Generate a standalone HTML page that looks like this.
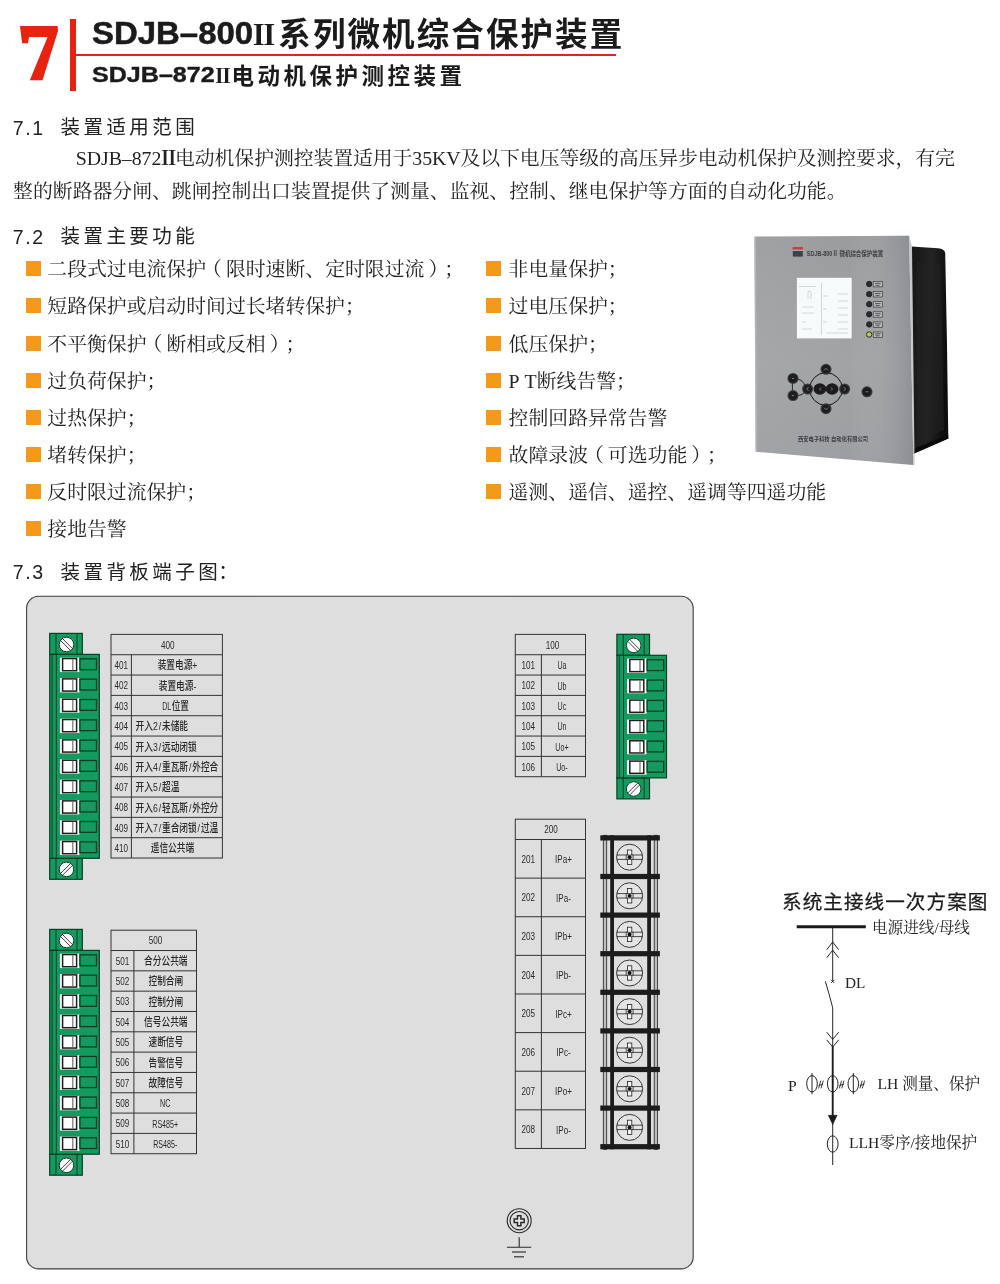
<!DOCTYPE html><html lang="zh"><head><meta charset="utf-8"><title>SDJB-872Ⅱ</title><style>
html,body{margin:0;padding:0;background:#fff;}
#pg{will-change:transform;text-spacing-trim:space-all;font-kerning:none;position:relative;width:1000px;height:1284px;overflow:hidden;background:#fff;
 font-family:"Liberation Serif","Noto Serif CJK SC",serif;color:#1a1a1a;}
.t{position:absolute;white-space:nowrap;line-height:1;}
.hei{font-family:"Liberation Sans","Noto Sans CJK SC",sans-serif;}
.song{font-family:"Liberation Serif","Noto Serif CJK SC",serif;}
.h1{font-weight:bold;font-size:32.5px;letter-spacing:2.1px;color:#1b1b1b;}
.h2{font-weight:bold;font-size:22.5px;letter-spacing:3.5px;color:#1b1b1b;}
.sec{font-size:19.5px;letter-spacing:3.45px;color:#222;}
.num{font-size:19.5px;letter-spacing:1.6px;color:#222;}
.body{font-size:19.85px;color:#222;}
.r2{margin:0 -3.5px 0 -2.5px;font-weight:bold;}
.li{font-size:19.85px;color:#222;}
.pl{position:relative;left:-4px;}.pr{position:relative;left:4px;}
.sq{position:absolute;width:15.5px;height:15px;background:#f5991a;}
svg{position:absolute;left:0;top:0;will-change:transform;}
.tt{font-family:"Liberation Sans","Noto Sans CJK SC",sans-serif;fill:#2a2a2a;}
</style></head><body><div id="pg">
<div class="t" id="seven" style="left:14.6px;top:12.6px;font-family:'Liberation Serif',serif;font-weight:bold;font-size:79px;color:#e8230f;transform-origin:0 0;transform:skewX(7deg) scaleX(1.06);-webkit-text-stroke:2.4px #e8230f;">7</div>
<div style="position:absolute;left:69.5px;top:19px;width:6px;height:71.5px;background:#e8230f;"></div>
<div style="position:absolute;left:73px;top:53.8px;width:543px;height:2.6px;background:#e8230f;"></div>
<div class="t hei" id="h1a" style="left:92px;top:18.4px;font-weight:bold;font-size:30.5px;color:#1b1b1b;transform-origin:0 0;transform:scaleX(1.08);-webkit-text-stroke:0.5px #1b1b1b;">SDJB–800</div>
<div class="t song" id="h1b" style="left:250px;top:21.5px;font-weight:900;font-size:28px;color:#1b1b1b;transform-origin:50% 0;transform:scaleX(1.0);">Ⅱ</div>
<div class="t hei h1" id="h1" style="left:278.3px;top:18.6px;">系列微机综合保护装置</div>
<div class="t hei" id="h2a" style="left:92px;top:64.2px;font-weight:bold;font-size:22.3px;color:#1b1b1b;transform-origin:0 0;transform:scaleX(1.125);-webkit-text-stroke:0.4px #1b1b1b;">SDJB–872</div>
<div class="t song" id="h2b" style="left:213px;top:65.5px;font-weight:900;font-size:20px;color:#1b1b1b;transform-origin:50% 0;transform:scaleX(0.97);">Ⅱ</div>
<div class="t hei h2" id="h2" style="left:231.6px;top:65.8px;">电动机保护测控装置</div>
<div class="t hei num" style="left:12.8px;top:118.6px;">7.1</div><div class="t hei sec" id="s1" style="left:60.5px;top:117.7px;">装置适用范围</div>
<div class="t song body" id="p1" style="left:75.8px;top:149.2px;letter-spacing:-0.07px;">SDJB–872<span class="r2">Ⅱ</span>电动机保护测控装置适用于35KV及以下电压等级的高压异步电动机保护及测控要求，有完</div>
<div class="t song body" id="p2" style="left:13.1px;top:182.2px;">整的断路器分闸、跳闸控制出口装置提供了测量、监视、控制、继电保护等方面的自动化功能。</div>
<div class="t hei num" style="left:12.8px;top:228px;">7.2</div><div class="t hei sec" id="s2" style="left:60.5px;top:227.1px;">装置主要功能</div>
<div class="sq" style="left:25.5px;top:261.25px;"></div>
<div class="t song li" id="l0" style="left:47.3px;top:260.35px;">二段式过电流保护<span class="pl">（</span>限时速断、定时限过流<span class="pr">）</span>；</div>
<div class="sq" style="left:25.5px;top:298.39px;"></div>
<div class="t song li" id="l1" style="left:47.3px;top:297.49px;">短路保护或启动时间过长堵转保护；</div>
<div class="sq" style="left:25.5px;top:335.53px;"></div>
<div class="t song li" id="l2" style="left:47.3px;top:334.63px;">不平衡保护<span class="pl">（</span>断相或反相<span class="pr">）</span>；</div>
<div class="sq" style="left:25.5px;top:372.67px;"></div>
<div class="t song li" id="l3" style="left:47.3px;top:371.77px;">过负荷保护；</div>
<div class="sq" style="left:25.5px;top:409.81px;"></div>
<div class="t song li" id="l4" style="left:47.3px;top:408.91px;">过热保护；</div>
<div class="sq" style="left:25.5px;top:446.95px;"></div>
<div class="t song li" id="l5" style="left:47.3px;top:446.05px;">堵转保护；</div>
<div class="sq" style="left:25.5px;top:484.09px;"></div>
<div class="t song li" id="l6" style="left:47.3px;top:483.19px;">反时限过流保护；</div>
<div class="sq" style="left:25.5px;top:521.23px;"></div>
<div class="t song li" id="l7" style="left:47.3px;top:520.33px;">接地告警</div>
<div class="sq" style="left:485.5px;top:261.25px;"></div>
<div class="t song li" id="r0" style="left:508.6px;top:260.35px;">非电量保护；</div>
<div class="sq" style="left:485.5px;top:298.39px;"></div>
<div class="t song li" id="r1" style="left:508.6px;top:297.49px;">过电压保护；</div>
<div class="sq" style="left:485.5px;top:335.53px;"></div>
<div class="t song li" id="r2" style="left:508.6px;top:334.63px;">低压保护；</div>
<div class="sq" style="left:485.5px;top:372.67px;"></div>
<div class="t song li" id="r3" style="left:508.6px;top:371.77px;">P T断线告警；</div>
<div class="sq" style="left:485.5px;top:409.81px;"></div>
<div class="t song li" id="r4" style="left:508.6px;top:408.91px;">控制回路异常告警</div>
<div class="sq" style="left:485.5px;top:446.95px;"></div>
<div class="t song li" id="r5" style="left:508.6px;top:446.05px;">故障录波<span class="pl">（</span>可选功能<span class="pr">）</span>；</div>
<div class="sq" style="left:485.5px;top:484.09px;"></div>
<div class="t song li" id="r6" style="left:508.6px;top:483.19px;">遥测、遥信、遥控、遥调等四遥功能</div>
<div class="t hei num" style="left:12.8px;top:563.4px;">7.3</div><div class="t hei sec" id="s3" style="left:60.5px;top:562.5px;">装置背板端子图<span style="margin-left:-3px">：</span></div>
<svg width="1000" height="1284" viewBox="0 0 1000 1284"><defs>
<linearGradient id="gpanel" x1="0" y1="0" x2="0" y2="1"><stop offset="0" stop-color="#9a9c9e"/><stop offset="0.55" stop-color="#a1a3a5"/><stop offset="1" stop-color="#9c9ea1"/></linearGradient>
<linearGradient id="gpanel2" x1="0" y1="0" x2="1" y2="0"><stop offset="0" stop-color="#ffffff" stop-opacity="0.05"/><stop offset="0.6" stop-color="#ffffff" stop-opacity="0"/><stop offset="1" stop-color="#50545e" stop-opacity="0.22"/></linearGradient>
<linearGradient id="gbox" x1="0" y1="0" x2="1" y2="0.15"><stop offset="0" stop-color="#161616"/><stop offset="0.55" stop-color="#232323"/><stop offset="1" stop-color="#0d0d0d"/></linearGradient>
</defs><g id="device"><path d="M911.5 246.6 L938 248.2 Q944.6 249 945.2 253 L947 345 L948.3 438.6 L913.6 453.8 Z" fill="url(#gbox)"/><path d="M916 262 L941 265 L944 430 L917.5 441.5 Z" fill="#222224" opacity="0.55"/><path d="M913.6 453.8 L948.3 438.6 L948.2 434.5 L913.6 449 Z" fill="#0a0a0a"/><polygon points="754.4,236.6 909.2,235.8 913.4,465 755.6,451.8" fill="url(#gpanel)"/><polygon points="754.4,236.6 909.2,235.8 913.4,465 755.6,451.8" fill="url(#gpanel2)"/><polygon points="909.2,235.8 912,246.8 914.6,465.4 913.4,465" fill="#c4c7ca"/><polygon points="754.4,236.6 756,236.6 757.2,451.9 755.6,451.8" fill="#b9bbbd" opacity="0.7"/><rect x="796.9" y="277.8" width="54.8" height="60.6" fill="#f7fafb"/><g stroke="#b9c3c8" stroke-width="0.6" fill="none"><path d="M799 286.5H816M808 291.5v7.5M811 291.5v7.5M808 291.5h3M821.5 283v52M823 296h5M838 294h10M838 301h10M823 309h4M838 308h10M838 315h10M823 322h4M838 322h10M838 329h10M802 307h12M802 313h12M802 322h4M802 329h10M826 333h22"/></g><circle cx="869.2" cy="284.0" r="2.7" fill="#2d2d2d" stroke="#1e1e1e" stroke-width="0.9"/><rect x="873.2" y="281.5" width="9.4" height="5.4" fill="#b4b7b9" stroke="#2c2c2c" stroke-width="0.6"/><path d="M875 283.4h5.6M875.6 285.3h4" stroke="#3c3f42" stroke-width="0.8"/><circle cx="869.2" cy="294.1" r="2.7" fill="#2d2d2d" stroke="#1e1e1e" stroke-width="0.9"/><rect x="873.2" y="291.6" width="9.4" height="5.4" fill="#b4b7b9" stroke="#2c2c2c" stroke-width="0.6"/><path d="M875 293.5h5.6M875.6 295.4h4" stroke="#3c3f42" stroke-width="0.8"/><circle cx="869.2" cy="304.2" r="2.7" fill="#2d2d2d" stroke="#1e1e1e" stroke-width="0.9"/><rect x="873.2" y="301.7" width="9.4" height="5.4" fill="#b4b7b9" stroke="#2c2c2c" stroke-width="0.6"/><path d="M875 303.6h5.6M875.6 305.5h4" stroke="#3c3f42" stroke-width="0.8"/><circle cx="869.2" cy="314.3" r="2.7" fill="#2d2d2d" stroke="#1e1e1e" stroke-width="0.9"/><rect x="873.2" y="311.8" width="9.4" height="5.4" fill="#b4b7b9" stroke="#2c2c2c" stroke-width="0.6"/><path d="M875 313.7h5.6M875.6 315.6h4" stroke="#3c3f42" stroke-width="0.8"/><circle cx="869.2" cy="324.4" r="2.7" fill="#2d2d2d" stroke="#1e1e1e" stroke-width="0.9"/><rect x="873.2" y="321.9" width="9.4" height="5.4" fill="#b4b7b9" stroke="#2c2c2c" stroke-width="0.6"/><path d="M875 323.8h5.6M875.6 325.7h4" stroke="#3c3f42" stroke-width="0.8"/><circle cx="869.2" cy="334.5" r="2.7" fill="#b7cf4a" stroke="#1e1e1e" stroke-width="0.9"/><rect x="873.2" y="332.0" width="9.4" height="5.4" fill="#b4b7b9" stroke="#2c2c2c" stroke-width="0.6"/><path d="M875 333.9h5.6M875.6 335.8h4" stroke="#3c3f42" stroke-width="0.8"/><circle cx="826" cy="389" r="16.3" fill="none" stroke="#141414" stroke-width="1"/><path d="M797 379 Q803.5 380 804.8 386 M797 395.6 Q803.5 395 804.8 391.6 M792.4 383v8" stroke="#1a1a1a" stroke-width="0.9" fill="none"/><circle cx="826.0" cy="369.3" r="5.5" fill="#3a3a3e"/><circle cx="826.0" cy="369.3" r="4.3" fill="#1d1d20"/><circle cx="826.0" cy="408.7" r="5.5" fill="#3a3a3e"/><circle cx="826.0" cy="408.7" r="4.3" fill="#1d1d20"/><circle cx="807.6" cy="389.0" r="5.5" fill="#3a3a3e"/><circle cx="807.6" cy="389.0" r="4.3" fill="#1d1d20"/><circle cx="844.6" cy="389.0" r="5.5" fill="#3a3a3e"/><circle cx="844.6" cy="389.0" r="4.3" fill="#1d1d20"/><circle cx="793.0" cy="378.4" r="5.5" fill="#3a3a3e"/><circle cx="793.0" cy="378.4" r="4.3" fill="#1d1d20"/><circle cx="793.0" cy="395.6" r="5.5" fill="#3a3a3e"/><circle cx="793.0" cy="395.6" r="4.3" fill="#1d1d20"/><circle cx="867.0" cy="391.8" r="5.5" fill="#3a3a3e"/><circle cx="867.0" cy="391.8" r="4.3" fill="#1d1d20"/><ellipse cx="819.9" cy="389" rx="6.4" ry="5.8" fill="#1c1c1f"/><ellipse cx="832.1" cy="389" rx="6.4" ry="5.8" fill="#1c1c1f"/><g stroke="#8f9296" stroke-width="0.8" fill="none"><path d="M824 370.3l2-2 2 2M824 407.7l2 2 2-2M808.6 387l-2 2 2 2M843.6 387l2 2-2 2M821 387.5l-1.5 1.5 1.5 1.5M831 387.5l1.5 1.5-1.5 1.5M865.6 391.8h2.8M791.8 378.4h2.4M791.8 395.6h2.4"/></g><rect x="792.6" y="247" width="10.4" height="2.6" fill="#c4413d"/><rect x="792.8" y="251" width="10" height="5.6" fill="#3d4248"/><path d="M792.4 250.3h10.8" stroke="#b9bcbe" stroke-width="0.5"/><text x="806.8" y="256.4" font-family="'Liberation Sans','Noto Sans CJK SC',sans-serif" font-size="6.8" font-weight="bold" fill="#3b3f43" textLength="76.5" lengthAdjust="spacingAndGlyphs">SDJB-800Ⅱ 微机综合保护装置</text><text x="798" y="440.6" font-family="'Liberation Sans','Noto Sans CJK SC',sans-serif" font-size="6.2" font-weight="bold" fill="#3b3f43" textLength="70" lengthAdjust="spacingAndGlyphs">西安电子科技 自动化有限公司</text></g><rect x="26.6" y="596.3" width="666.6" height="672.6" rx="12" ry="12" fill="#dedede" stroke="#3e3e3e" stroke-width="1.1"/><g id="c400"><rect x="49.70" y="633.40" width="32.6" height="21.00" fill="#149a5f" stroke="#083f24" stroke-width="1.2"/><path d="M56.00 633.40v21.00M77.00 633.40v21.00" stroke="#083f24" stroke-width="1" fill="none"/><circle cx="66.50" cy="644.50" r="7.3" fill="#fff" stroke="#083f24" stroke-width="1"/><path d="M60.60 640.50L70.50 650.40M62.50 638.60L72.40 648.50" stroke="#3a2a2a" stroke-width="0.9" fill="none"/><rect x="49.70" y="858.30" width="32.6" height="21.00" fill="#149a5f" stroke="#083f24" stroke-width="1.2"/><path d="M56.00 858.30v21.00M77.00 858.30v21.00" stroke="#083f24" stroke-width="1" fill="none"/><circle cx="66.50" cy="869.40" r="7.3" fill="#fff" stroke="#083f24" stroke-width="1"/><path d="M72.40 865.40L62.50 875.30M70.50 863.50L60.60 873.40" stroke="#3a2a2a" stroke-width="0.9" fill="none"/><rect x="49.70" y="654.40" width="49.6" height="203.90" fill="#149a5f" stroke="#083f24" stroke-width="1.2"/><path d="M52.10 654.40v203.90M56.30 654.40v203.90" stroke="#083f24" stroke-width="1" fill="none"/><rect x="59.90" y="657.66" width="19.5" height="14.4" fill="#fff"/><rect x="62.60" y="658.56" width="14" height="12.2" fill="#fff" stroke="#231a1a" stroke-width="1.5"/><path d="M72.80 659.16v11" stroke="#707070" stroke-width="1.2"/><rect x="79.90" y="658.86" width="16.6" height="10.8" fill="#149a5f" stroke="#083f24" stroke-width="1.3"/><rect x="59.90" y="677.99" width="19.5" height="14.4" fill="#fff"/><rect x="62.60" y="678.89" width="14" height="12.2" fill="#fff" stroke="#231a1a" stroke-width="1.5"/><path d="M72.80 679.49v11" stroke="#707070" stroke-width="1.2"/><rect x="79.90" y="679.19" width="16.6" height="10.8" fill="#149a5f" stroke="#083f24" stroke-width="1.3"/><rect x="59.90" y="698.32" width="19.5" height="14.4" fill="#fff"/><rect x="62.60" y="699.23" width="14" height="12.2" fill="#fff" stroke="#231a1a" stroke-width="1.5"/><path d="M72.80 699.82v11" stroke="#707070" stroke-width="1.2"/><rect x="79.90" y="699.52" width="16.6" height="10.8" fill="#149a5f" stroke="#083f24" stroke-width="1.3"/><rect x="59.90" y="718.65" width="19.5" height="14.4" fill="#fff"/><rect x="62.60" y="719.55" width="14" height="12.2" fill="#fff" stroke="#231a1a" stroke-width="1.5"/><path d="M72.80 720.15v11" stroke="#707070" stroke-width="1.2"/><rect x="79.90" y="719.85" width="16.6" height="10.8" fill="#149a5f" stroke="#083f24" stroke-width="1.3"/><rect x="59.90" y="738.98" width="19.5" height="14.4" fill="#fff"/><rect x="62.60" y="739.88" width="14" height="12.2" fill="#fff" stroke="#231a1a" stroke-width="1.5"/><path d="M72.80 740.48v11" stroke="#707070" stroke-width="1.2"/><rect x="79.90" y="740.18" width="16.6" height="10.8" fill="#149a5f" stroke="#083f24" stroke-width="1.3"/><rect x="59.90" y="759.31" width="19.5" height="14.4" fill="#fff"/><rect x="62.60" y="760.21" width="14" height="12.2" fill="#fff" stroke="#231a1a" stroke-width="1.5"/><path d="M72.80 760.81v11" stroke="#707070" stroke-width="1.2"/><rect x="79.90" y="760.51" width="16.6" height="10.8" fill="#149a5f" stroke="#083f24" stroke-width="1.3"/><rect x="59.90" y="779.64" width="19.5" height="14.4" fill="#fff"/><rect x="62.60" y="780.54" width="14" height="12.2" fill="#fff" stroke="#231a1a" stroke-width="1.5"/><path d="M72.80 781.14v11" stroke="#707070" stroke-width="1.2"/><rect x="79.90" y="780.84" width="16.6" height="10.8" fill="#149a5f" stroke="#083f24" stroke-width="1.3"/><rect x="59.90" y="799.97" width="19.5" height="14.4" fill="#fff"/><rect x="62.60" y="800.88" width="14" height="12.2" fill="#fff" stroke="#231a1a" stroke-width="1.5"/><path d="M72.80 801.47v11" stroke="#707070" stroke-width="1.2"/><rect x="79.90" y="801.17" width="16.6" height="10.8" fill="#149a5f" stroke="#083f24" stroke-width="1.3"/><rect x="59.90" y="820.30" width="19.5" height="14.4" fill="#fff"/><rect x="62.60" y="821.20" width="14" height="12.2" fill="#fff" stroke="#231a1a" stroke-width="1.5"/><path d="M72.80 821.80v11" stroke="#707070" stroke-width="1.2"/><rect x="79.90" y="821.50" width="16.6" height="10.8" fill="#149a5f" stroke="#083f24" stroke-width="1.3"/><rect x="59.90" y="840.63" width="19.5" height="14.4" fill="#fff"/><rect x="62.60" y="841.53" width="14" height="12.2" fill="#fff" stroke="#231a1a" stroke-width="1.5"/><path d="M72.80 842.13v11" stroke="#707070" stroke-width="1.2"/><rect x="79.90" y="841.83" width="16.6" height="10.8" fill="#149a5f" stroke="#083f24" stroke-width="1.3"/></g><g id="c500"><rect x="49.70" y="929.40" width="32.6" height="21.00" fill="#149a5f" stroke="#083f24" stroke-width="1.2"/><path d="M56.00 929.40v21.00M77.00 929.40v21.00" stroke="#083f24" stroke-width="1" fill="none"/><circle cx="66.50" cy="940.50" r="7.3" fill="#fff" stroke="#083f24" stroke-width="1"/><path d="M60.60 936.50L70.50 946.40M62.50 934.60L72.40 944.50" stroke="#3a2a2a" stroke-width="0.9" fill="none"/><rect x="49.70" y="1154.20" width="32.6" height="21.00" fill="#149a5f" stroke="#083f24" stroke-width="1.2"/><path d="M56.00 1154.20v21.00M77.00 1154.20v21.00" stroke="#083f24" stroke-width="1" fill="none"/><circle cx="66.50" cy="1165.30" r="7.3" fill="#fff" stroke="#083f24" stroke-width="1"/><path d="M72.40 1161.30L62.50 1171.20M70.50 1159.40L60.60 1169.30" stroke="#3a2a2a" stroke-width="0.9" fill="none"/><rect x="49.70" y="950.40" width="49.6" height="203.80" fill="#149a5f" stroke="#083f24" stroke-width="1.2"/><path d="M52.10 950.40v203.80M56.30 950.40v203.80" stroke="#083f24" stroke-width="1" fill="none"/><rect x="59.90" y="953.66" width="19.5" height="14.4" fill="#fff"/><rect x="62.60" y="954.56" width="14" height="12.2" fill="#fff" stroke="#231a1a" stroke-width="1.5"/><path d="M72.80 955.16v11" stroke="#707070" stroke-width="1.2"/><rect x="79.90" y="954.86" width="16.6" height="10.8" fill="#149a5f" stroke="#083f24" stroke-width="1.3"/><rect x="59.90" y="973.98" width="19.5" height="14.4" fill="#fff"/><rect x="62.60" y="974.88" width="14" height="12.2" fill="#fff" stroke="#231a1a" stroke-width="1.5"/><path d="M72.80 975.48v11" stroke="#707070" stroke-width="1.2"/><rect x="79.90" y="975.18" width="16.6" height="10.8" fill="#149a5f" stroke="#083f24" stroke-width="1.3"/><rect x="59.90" y="994.30" width="19.5" height="14.4" fill="#fff"/><rect x="62.60" y="995.20" width="14" height="12.2" fill="#fff" stroke="#231a1a" stroke-width="1.5"/><path d="M72.80 995.80v11" stroke="#707070" stroke-width="1.2"/><rect x="79.90" y="995.50" width="16.6" height="10.8" fill="#149a5f" stroke="#083f24" stroke-width="1.3"/><rect x="59.90" y="1014.62" width="19.5" height="14.4" fill="#fff"/><rect x="62.60" y="1015.52" width="14" height="12.2" fill="#fff" stroke="#231a1a" stroke-width="1.5"/><path d="M72.80 1016.12v11" stroke="#707070" stroke-width="1.2"/><rect x="79.90" y="1015.82" width="16.6" height="10.8" fill="#149a5f" stroke="#083f24" stroke-width="1.3"/><rect x="59.90" y="1034.94" width="19.5" height="14.4" fill="#fff"/><rect x="62.60" y="1035.84" width="14" height="12.2" fill="#fff" stroke="#231a1a" stroke-width="1.5"/><path d="M72.80 1036.44v11" stroke="#707070" stroke-width="1.2"/><rect x="79.90" y="1036.14" width="16.6" height="10.8" fill="#149a5f" stroke="#083f24" stroke-width="1.3"/><rect x="59.90" y="1055.26" width="19.5" height="14.4" fill="#fff"/><rect x="62.60" y="1056.16" width="14" height="12.2" fill="#fff" stroke="#231a1a" stroke-width="1.5"/><path d="M72.80 1056.76v11" stroke="#707070" stroke-width="1.2"/><rect x="79.90" y="1056.46" width="16.6" height="10.8" fill="#149a5f" stroke="#083f24" stroke-width="1.3"/><rect x="59.90" y="1075.58" width="19.5" height="14.4" fill="#fff"/><rect x="62.60" y="1076.48" width="14" height="12.2" fill="#fff" stroke="#231a1a" stroke-width="1.5"/><path d="M72.80 1077.08v11" stroke="#707070" stroke-width="1.2"/><rect x="79.90" y="1076.78" width="16.6" height="10.8" fill="#149a5f" stroke="#083f24" stroke-width="1.3"/><rect x="59.90" y="1095.90" width="19.5" height="14.4" fill="#fff"/><rect x="62.60" y="1096.80" width="14" height="12.2" fill="#fff" stroke="#231a1a" stroke-width="1.5"/><path d="M72.80 1097.40v11" stroke="#707070" stroke-width="1.2"/><rect x="79.90" y="1097.10" width="16.6" height="10.8" fill="#149a5f" stroke="#083f24" stroke-width="1.3"/><rect x="59.90" y="1116.22" width="19.5" height="14.4" fill="#fff"/><rect x="62.60" y="1117.12" width="14" height="12.2" fill="#fff" stroke="#231a1a" stroke-width="1.5"/><path d="M72.80 1117.72v11" stroke="#707070" stroke-width="1.2"/><rect x="79.90" y="1117.42" width="16.6" height="10.8" fill="#149a5f" stroke="#083f24" stroke-width="1.3"/><rect x="59.90" y="1136.54" width="19.5" height="14.4" fill="#fff"/><rect x="62.60" y="1137.44" width="14" height="12.2" fill="#fff" stroke="#231a1a" stroke-width="1.5"/><path d="M72.80 1138.04v11" stroke="#707070" stroke-width="1.2"/><rect x="79.90" y="1137.74" width="16.6" height="10.8" fill="#149a5f" stroke="#083f24" stroke-width="1.3"/></g><g id="c100"><rect x="616.90" y="634.30" width="32.6" height="21.00" fill="#149a5f" stroke="#083f24" stroke-width="1.2"/><path d="M623.20 634.30v21.00M644.20 634.30v21.00" stroke="#083f24" stroke-width="1" fill="none"/><circle cx="633.70" cy="645.40" r="7.3" fill="#fff" stroke="#083f24" stroke-width="1"/><path d="M627.80 641.40L637.70 651.30M629.70 639.50L639.60 649.40" stroke="#3a2a2a" stroke-width="0.9" fill="none"/><rect x="616.90" y="777.88" width="32.6" height="21.00" fill="#149a5f" stroke="#083f24" stroke-width="1.2"/><path d="M623.20 777.88v21.00M644.20 777.88v21.00" stroke="#083f24" stroke-width="1" fill="none"/><circle cx="633.70" cy="788.98" r="7.3" fill="#fff" stroke="#083f24" stroke-width="1"/><path d="M639.60 784.98L629.70 794.88M637.70 783.08L627.80 792.98" stroke="#3a2a2a" stroke-width="0.9" fill="none"/><rect x="616.90" y="655.30" width="49.6" height="122.58" fill="#149a5f" stroke="#083f24" stroke-width="1.2"/><path d="M619.30 655.30v122.58M623.50 655.30v122.58" stroke="#083f24" stroke-width="1" fill="none"/><rect x="627.10" y="658.56" width="19.5" height="14.4" fill="#fff"/><rect x="629.80" y="659.46" width="14" height="12.2" fill="#fff" stroke="#231a1a" stroke-width="1.5"/><path d="M640.00 660.06v11" stroke="#707070" stroke-width="1.2"/><rect x="647.10" y="659.76" width="16.6" height="10.8" fill="#149a5f" stroke="#083f24" stroke-width="1.3"/><rect x="627.10" y="678.89" width="19.5" height="14.4" fill="#fff"/><rect x="629.80" y="679.79" width="14" height="12.2" fill="#fff" stroke="#231a1a" stroke-width="1.5"/><path d="M640.00 680.39v11" stroke="#707070" stroke-width="1.2"/><rect x="647.10" y="680.09" width="16.6" height="10.8" fill="#149a5f" stroke="#083f24" stroke-width="1.3"/><rect x="627.10" y="699.22" width="19.5" height="14.4" fill="#fff"/><rect x="629.80" y="700.12" width="14" height="12.2" fill="#fff" stroke="#231a1a" stroke-width="1.5"/><path d="M640.00 700.72v11" stroke="#707070" stroke-width="1.2"/><rect x="647.10" y="700.42" width="16.6" height="10.8" fill="#149a5f" stroke="#083f24" stroke-width="1.3"/><rect x="627.10" y="719.55" width="19.5" height="14.4" fill="#fff"/><rect x="629.80" y="720.45" width="14" height="12.2" fill="#fff" stroke="#231a1a" stroke-width="1.5"/><path d="M640.00 721.05v11" stroke="#707070" stroke-width="1.2"/><rect x="647.10" y="720.75" width="16.6" height="10.8" fill="#149a5f" stroke="#083f24" stroke-width="1.3"/><rect x="627.10" y="739.88" width="19.5" height="14.4" fill="#fff"/><rect x="629.80" y="740.78" width="14" height="12.2" fill="#fff" stroke="#231a1a" stroke-width="1.5"/><path d="M640.00 741.38v11" stroke="#707070" stroke-width="1.2"/><rect x="647.10" y="741.08" width="16.6" height="10.8" fill="#149a5f" stroke="#083f24" stroke-width="1.3"/><rect x="627.10" y="760.21" width="19.5" height="14.4" fill="#fff"/><rect x="629.80" y="761.12" width="14" height="12.2" fill="#fff" stroke="#231a1a" stroke-width="1.5"/><path d="M640.00 761.71v11" stroke="#707070" stroke-width="1.2"/><rect x="647.10" y="761.41" width="16.6" height="10.8" fill="#149a5f" stroke="#083f24" stroke-width="1.3"/></g><g id="t400"><rect x="111.00" y="634.40" width="111.40" height="223.63" fill="none" stroke="#333" stroke-width="1"/><path d="M111.00 654.73H222.40M111.00 675.06H222.40M111.00 695.39H222.40M111.00 715.72H222.40M111.00 736.05H222.40M111.00 756.38H222.40M111.00 776.71H222.40M111.00 797.04H222.40M111.00 817.37H222.40M111.00 837.70H222.40M131.40 654.73V858.03" stroke="#333" stroke-width="1" fill="none"/><text class="tt" transform="translate(167.70 648.56) scale(0.740 1)" text-anchor="middle" font-size="11" font-weight="400">400</text><text class="tt" transform="translate(121.20 668.89) scale(0.740 1)" text-anchor="middle" font-size="11" font-weight="400">401</text><text class="tt" transform="translate(177.50 669.29) scale(0.755 1)" text-anchor="middle" font-size="11.5" font-weight="500">装置电源+</text><text class="tt" transform="translate(121.20 689.23) scale(0.740 1)" text-anchor="middle" font-size="11" font-weight="400">402</text><text class="tt" transform="translate(177.50 689.62) scale(0.755 1)" text-anchor="middle" font-size="11.5" font-weight="500">装置电源-</text><text class="tt" transform="translate(121.20 709.56) scale(0.740 1)" text-anchor="middle" font-size="11" font-weight="400">403</text><text class="tt" transform="translate(171.30 709.96) scale(0.620 1)" text-anchor="end" font-size="11.5" font-weight="400">DL</text><text class="tt" transform="translate(171.70 709.96) scale(0.755 1)" text-anchor="start" font-size="11.5" font-weight="500">位置</text><text class="tt" transform="translate(121.20 729.88) scale(0.740 1)" text-anchor="middle" font-size="11" font-weight="400">404</text><text class="tt" transform="translate(135.60 730.28) scale(0.755 1)" text-anchor="start" font-size="11.5" font-weight="500">开入2<tspan dx="1.2">/</tspan><tspan dx="1.2">​</tspan>未储能</text><text class="tt" transform="translate(121.20 750.22) scale(0.740 1)" text-anchor="middle" font-size="11" font-weight="400">405</text><text class="tt" transform="translate(135.60 750.62) scale(0.755 1)" text-anchor="start" font-size="11.5" font-weight="500">开入3<tspan dx="1.2">/</tspan><tspan dx="1.2">​</tspan>远动闭锁</text><text class="tt" transform="translate(121.20 770.55) scale(0.740 1)" text-anchor="middle" font-size="11" font-weight="400">406</text><text class="tt" transform="translate(135.60 770.95) scale(0.755 1)" text-anchor="start" font-size="11.5" font-weight="500">开入4<tspan dx="1.2">/</tspan><tspan dx="1.2">​</tspan>重瓦斯<tspan dx="1.2">/</tspan><tspan dx="1.2">​</tspan>外控合</text><text class="tt" transform="translate(121.20 790.88) scale(0.740 1)" text-anchor="middle" font-size="11" font-weight="400">407</text><text class="tt" transform="translate(135.60 791.27) scale(0.755 1)" text-anchor="start" font-size="11.5" font-weight="500">开入5<tspan dx="1.2">/</tspan><tspan dx="1.2">​</tspan>超温</text><text class="tt" transform="translate(121.20 811.21) scale(0.740 1)" text-anchor="middle" font-size="11" font-weight="400">408</text><text class="tt" transform="translate(135.60 811.61) scale(0.755 1)" text-anchor="start" font-size="11.5" font-weight="500">开入6<tspan dx="1.2">/</tspan><tspan dx="1.2">​</tspan>轻瓦斯<tspan dx="1.2">/</tspan><tspan dx="1.2">​</tspan>外控分</text><text class="tt" transform="translate(121.20 831.53) scale(0.740 1)" text-anchor="middle" font-size="11" font-weight="400">409</text><text class="tt" transform="translate(135.60 831.93) scale(0.755 1)" text-anchor="start" font-size="11.5" font-weight="500">开入7<tspan dx="1.2">/</tspan><tspan dx="1.2">​</tspan>重合闭锁<tspan dx="1.2">/</tspan><tspan dx="1.2">​</tspan>过温</text><text class="tt" transform="translate(121.20 851.87) scale(0.740 1)" text-anchor="middle" font-size="11" font-weight="400">410</text><text class="tt" transform="translate(172.40 852.26) scale(0.755 1)" text-anchor="middle" font-size="11.5" font-weight="500">遥信公共端</text></g><g id="t500"><rect x="111.00" y="930.20" width="85.50" height="223.52" fill="none" stroke="#333" stroke-width="1"/><path d="M111.00 950.52H196.50M111.00 970.84H196.50M111.00 991.16H196.50M111.00 1011.48H196.50M111.00 1031.80H196.50M111.00 1052.12H196.50M111.00 1072.44H196.50M111.00 1092.76H196.50M111.00 1113.08H196.50M111.00 1133.40H196.50M133.90 950.52V1153.72" stroke="#333" stroke-width="1" fill="none"/><text class="tt" transform="translate(155.55 944.36) scale(0.740 1)" text-anchor="middle" font-size="11" font-weight="400">500</text><text class="tt" transform="translate(122.45 964.68) scale(0.740 1)" text-anchor="middle" font-size="11" font-weight="400">501</text><text class="tt" transform="translate(165.80 965.08) scale(0.755 1)" text-anchor="middle" font-size="11.5" font-weight="500">合分公共端</text><text class="tt" transform="translate(122.45 985.00) scale(0.740 1)" text-anchor="middle" font-size="11" font-weight="400">502</text><text class="tt" transform="translate(165.80 985.40) scale(0.755 1)" text-anchor="middle" font-size="11.5" font-weight="500">控制合闸</text><text class="tt" transform="translate(122.45 1005.32) scale(0.740 1)" text-anchor="middle" font-size="11" font-weight="400">503</text><text class="tt" transform="translate(165.80 1005.72) scale(0.755 1)" text-anchor="middle" font-size="11.5" font-weight="500">控制分闸</text><text class="tt" transform="translate(122.45 1025.64) scale(0.740 1)" text-anchor="middle" font-size="11" font-weight="400">504</text><text class="tt" transform="translate(165.80 1026.04) scale(0.755 1)" text-anchor="middle" font-size="11.5" font-weight="500">信号公共端</text><text class="tt" transform="translate(122.45 1045.96) scale(0.740 1)" text-anchor="middle" font-size="11" font-weight="400">505</text><text class="tt" transform="translate(165.80 1046.36) scale(0.755 1)" text-anchor="middle" font-size="11.5" font-weight="500">速断信号</text><text class="tt" transform="translate(122.45 1066.28) scale(0.740 1)" text-anchor="middle" font-size="11" font-weight="400">506</text><text class="tt" transform="translate(165.80 1066.68) scale(0.755 1)" text-anchor="middle" font-size="11.5" font-weight="500">告警信号</text><text class="tt" transform="translate(122.45 1086.60) scale(0.740 1)" text-anchor="middle" font-size="11" font-weight="400">507</text><text class="tt" transform="translate(165.80 1087.00) scale(0.755 1)" text-anchor="middle" font-size="11.5" font-weight="500">故障信号</text><text class="tt" transform="translate(122.45 1106.92) scale(0.740 1)" text-anchor="middle" font-size="11" font-weight="400">508</text><text class="tt" transform="translate(165.20 1107.32) scale(0.620 1)" text-anchor="middle" font-size="11.5" font-weight="400">NC</text><text class="tt" transform="translate(122.45 1127.24) scale(0.740 1)" text-anchor="middle" font-size="11" font-weight="400">509</text><text class="tt" transform="translate(165.20 1127.64) scale(0.620 1)" text-anchor="middle" font-size="11.5" font-weight="400">RS485+</text><text class="tt" transform="translate(122.45 1147.56) scale(0.740 1)" text-anchor="middle" font-size="11" font-weight="400">510</text><text class="tt" transform="translate(165.20 1147.96) scale(0.620 1)" text-anchor="middle" font-size="11.5" font-weight="400">RS485-</text></g><g id="t100"><rect x="515.30" y="634.40" width="70.20" height="142.31" fill="none" stroke="#333" stroke-width="1"/><path d="M515.30 654.73H585.50M515.30 675.06H585.50M515.30 695.39H585.50M515.30 715.72H585.50M515.30 736.05H585.50M515.30 756.38H585.50M541.40 654.73V776.71" stroke="#333" stroke-width="1" fill="none"/><text class="tt" transform="translate(552.60 648.56) scale(0.740 1)" text-anchor="middle" font-size="11" font-weight="400">100</text><text class="tt" transform="translate(528.35 668.89) scale(0.740 1)" text-anchor="middle" font-size="11" font-weight="400">101</text><text class="tt" transform="translate(561.95 669.29) scale(0.620 1)" text-anchor="middle" font-size="11.5" font-weight="400">Ua</text><text class="tt" transform="translate(528.35 689.23) scale(0.740 1)" text-anchor="middle" font-size="11" font-weight="400">102</text><text class="tt" transform="translate(561.95 689.62) scale(0.620 1)" text-anchor="middle" font-size="11.5" font-weight="400">Ub</text><text class="tt" transform="translate(528.35 709.56) scale(0.740 1)" text-anchor="middle" font-size="11" font-weight="400">103</text><text class="tt" transform="translate(561.95 709.96) scale(0.620 1)" text-anchor="middle" font-size="11.5" font-weight="400">Uc</text><text class="tt" transform="translate(528.35 729.88) scale(0.740 1)" text-anchor="middle" font-size="11" font-weight="400">104</text><text class="tt" transform="translate(561.95 730.28) scale(0.620 1)" text-anchor="middle" font-size="11.5" font-weight="400">Un</text><text class="tt" transform="translate(528.35 750.22) scale(0.740 1)" text-anchor="middle" font-size="11" font-weight="400">105</text><text class="tt" transform="translate(561.95 750.62) scale(0.620 1)" text-anchor="middle" font-size="11.5" font-weight="400">Uo+</text><text class="tt" transform="translate(528.35 770.55) scale(0.740 1)" text-anchor="middle" font-size="11" font-weight="400">106</text><text class="tt" transform="translate(561.95 770.95) scale(0.620 1)" text-anchor="middle" font-size="11.5" font-weight="400">Uo-</text></g><g id="t200"><rect x="515.30" y="819.20" width="70.20" height="329.26" fill="none" stroke="#333" stroke-width="1"/><path d="M515.30 839.50H585.50M515.30 878.12H585.50M515.30 916.74H585.50M515.30 955.36H585.50M515.30 993.98H585.50M515.30 1032.60H585.50M515.30 1071.22H585.50M515.30 1109.84H585.50M541.40 839.50V1148.46" stroke="#333" stroke-width="1" fill="none"/><text class="tt" transform="translate(551.00 833.35) scale(0.740 1)" text-anchor="middle" font-size="11" font-weight="400">200</text><text class="tt" transform="translate(528.35 862.81) scale(0.740 1)" text-anchor="middle" font-size="11" font-weight="400">201</text><text class="tt" transform="translate(563.45 863.21) scale(0.700 1)" text-anchor="middle" font-size="11.5" font-weight="400">IPa+</text><text class="tt" transform="translate(528.35 901.43) scale(0.740 1)" text-anchor="middle" font-size="11" font-weight="400">202</text><text class="tt" transform="translate(563.45 901.83) scale(0.700 1)" text-anchor="middle" font-size="11.5" font-weight="400">IPa-</text><text class="tt" transform="translate(528.35 940.05) scale(0.740 1)" text-anchor="middle" font-size="11" font-weight="400">203</text><text class="tt" transform="translate(563.45 940.45) scale(0.700 1)" text-anchor="middle" font-size="11.5" font-weight="400">IPb+</text><text class="tt" transform="translate(528.35 978.67) scale(0.740 1)" text-anchor="middle" font-size="11" font-weight="400">204</text><text class="tt" transform="translate(563.45 979.07) scale(0.700 1)" text-anchor="middle" font-size="11.5" font-weight="400">IPb-</text><text class="tt" transform="translate(528.35 1017.29) scale(0.740 1)" text-anchor="middle" font-size="11" font-weight="400">205</text><text class="tt" transform="translate(563.45 1017.69) scale(0.700 1)" text-anchor="middle" font-size="11.5" font-weight="400">IPc+</text><text class="tt" transform="translate(528.35 1055.91) scale(0.740 1)" text-anchor="middle" font-size="11" font-weight="400">206</text><text class="tt" transform="translate(563.45 1056.31) scale(0.700 1)" text-anchor="middle" font-size="11.5" font-weight="400">IPc-</text><text class="tt" transform="translate(528.35 1094.53) scale(0.740 1)" text-anchor="middle" font-size="11" font-weight="400">207</text><text class="tt" transform="translate(563.45 1094.93) scale(0.700 1)" text-anchor="middle" font-size="11.5" font-weight="400">IPo+</text><text class="tt" transform="translate(528.35 1133.15) scale(0.740 1)" text-anchor="middle" font-size="11" font-weight="400">208</text><text class="tt" transform="translate(563.45 1133.55) scale(0.700 1)" text-anchor="middle" font-size="11.5" font-weight="400">IPo-</text></g><g id="tb"><rect x="603.3" y="835.30" width="3.4" height="314.00" fill="#bdbdbd" stroke="#222" stroke-width="0.8"/><rect x="654.2" y="835.30" width="3.4" height="314.00" fill="#bdbdbd" stroke="#222" stroke-width="0.8"/><rect x="610.2" y="835.30" width="3.8" height="314.00" fill="#1c1c1c"/><rect x="647.2" y="835.30" width="3.8" height="314.00" fill="#1c1c1c"/><rect x="600.3" y="835.30" width="59.6" height="5.2" fill="#1c1c1c"/><rect x="600.3" y="873.90" width="59.6" height="5.2" fill="#1c1c1c"/><rect x="600.3" y="912.50" width="59.6" height="5.2" fill="#1c1c1c"/><rect x="600.3" y="951.10" width="59.6" height="5.2" fill="#1c1c1c"/><rect x="600.3" y="989.70" width="59.6" height="5.2" fill="#1c1c1c"/><rect x="600.3" y="1028.30" width="59.6" height="5.2" fill="#1c1c1c"/><rect x="600.3" y="1066.90" width="59.6" height="5.2" fill="#1c1c1c"/><rect x="600.3" y="1105.50" width="59.6" height="5.2" fill="#1c1c1c"/><rect x="600.3" y="1144.10" width="59.6" height="5.2" fill="#1c1c1c"/><circle cx="629.60" cy="857.20" r="13" fill="#e4e4e4" stroke="#222" stroke-width="0.9"/><path d="M616.80 855.00H642.40M616.80 859.40H642.40" stroke="#222" stroke-width="0.8"/><rect x="627.40" y="850.00" width="4.4" height="14.4" fill="#f2f2f2" stroke="#222" stroke-width="0.8"/><rect x="626.10" y="855.00" width="7" height="4.4" fill="#cfcfcf" stroke="#222" stroke-width="0.7"/><circle cx="629.60" cy="857.20" r="1.9" fill="#111"/><circle cx="629.60" cy="895.80" r="13" fill="#e4e4e4" stroke="#222" stroke-width="0.9"/><path d="M616.80 893.60H642.40M616.80 898.00H642.40" stroke="#222" stroke-width="0.8"/><rect x="627.40" y="888.60" width="4.4" height="14.4" fill="#f2f2f2" stroke="#222" stroke-width="0.8"/><rect x="626.10" y="893.60" width="7" height="4.4" fill="#cfcfcf" stroke="#222" stroke-width="0.7"/><circle cx="629.60" cy="895.80" r="1.9" fill="#111"/><circle cx="629.60" cy="934.40" r="13" fill="#e4e4e4" stroke="#222" stroke-width="0.9"/><path d="M616.80 932.20H642.40M616.80 936.60H642.40" stroke="#222" stroke-width="0.8"/><rect x="627.40" y="927.20" width="4.4" height="14.4" fill="#f2f2f2" stroke="#222" stroke-width="0.8"/><rect x="626.10" y="932.20" width="7" height="4.4" fill="#cfcfcf" stroke="#222" stroke-width="0.7"/><circle cx="629.60" cy="934.40" r="1.9" fill="#111"/><circle cx="629.60" cy="973.00" r="13" fill="#e4e4e4" stroke="#222" stroke-width="0.9"/><path d="M616.80 970.80H642.40M616.80 975.20H642.40" stroke="#222" stroke-width="0.8"/><rect x="627.40" y="965.80" width="4.4" height="14.4" fill="#f2f2f2" stroke="#222" stroke-width="0.8"/><rect x="626.10" y="970.80" width="7" height="4.4" fill="#cfcfcf" stroke="#222" stroke-width="0.7"/><circle cx="629.60" cy="973.00" r="1.9" fill="#111"/><circle cx="629.60" cy="1011.60" r="13" fill="#e4e4e4" stroke="#222" stroke-width="0.9"/><path d="M616.80 1009.40H642.40M616.80 1013.80H642.40" stroke="#222" stroke-width="0.8"/><rect x="627.40" y="1004.40" width="4.4" height="14.4" fill="#f2f2f2" stroke="#222" stroke-width="0.8"/><rect x="626.10" y="1009.40" width="7" height="4.4" fill="#cfcfcf" stroke="#222" stroke-width="0.7"/><circle cx="629.60" cy="1011.60" r="1.9" fill="#111"/><circle cx="629.60" cy="1050.20" r="13" fill="#e4e4e4" stroke="#222" stroke-width="0.9"/><path d="M616.80 1048.00H642.40M616.80 1052.40H642.40" stroke="#222" stroke-width="0.8"/><rect x="627.40" y="1043.00" width="4.4" height="14.4" fill="#f2f2f2" stroke="#222" stroke-width="0.8"/><rect x="626.10" y="1048.00" width="7" height="4.4" fill="#cfcfcf" stroke="#222" stroke-width="0.7"/><circle cx="629.60" cy="1050.20" r="1.9" fill="#111"/><circle cx="629.60" cy="1088.80" r="13" fill="#e4e4e4" stroke="#222" stroke-width="0.9"/><path d="M616.80 1086.60H642.40M616.80 1091.00H642.40" stroke="#222" stroke-width="0.8"/><rect x="627.40" y="1081.60" width="4.4" height="14.4" fill="#f2f2f2" stroke="#222" stroke-width="0.8"/><rect x="626.10" y="1086.60" width="7" height="4.4" fill="#cfcfcf" stroke="#222" stroke-width="0.7"/><circle cx="629.60" cy="1088.80" r="1.9" fill="#111"/><circle cx="629.60" cy="1127.40" r="13" fill="#e4e4e4" stroke="#222" stroke-width="0.9"/><path d="M616.80 1125.20H642.40M616.80 1129.60H642.40" stroke="#222" stroke-width="0.8"/><rect x="627.40" y="1120.20" width="4.4" height="14.4" fill="#f2f2f2" stroke="#222" stroke-width="0.8"/><rect x="626.10" y="1125.20" width="7" height="4.4" fill="#cfcfcf" stroke="#222" stroke-width="0.7"/><circle cx="629.60" cy="1127.40" r="1.9" fill="#111"/></g><g id="gnd" fill="none" stroke="#2a2a2a" stroke-width="1.1"><circle cx="519.2" cy="1220.7" r="12"/><circle cx="519.2" cy="1220.7" r="9.2"/><path d="M517.5 1215.7h3.4v3.3h3.3v3.4h-3.3v3.3h-3.4v-3.3h-3.3v-3.4h3.3z" stroke-width="1.5" fill="#e8e8e8"/><path d="M519.2 1237.2v10.1M506.9 1247.3h24.3"/><path d="M512 1251.9h14M514 1256.8h10" stroke="#555" stroke-width="1.5"/></g><g id="wd" fill="none" stroke="#1a1a1a" stroke-width="0.95"><path d="M796.7 926.8H865.8" stroke-width="3"/><path d="M832.7 927V980.8"/><path d="M826.7 949.7l6-7.6 6 7.6M826.7 957.8l6-7.6 6 7.6"/><path d="M831.2 979.9l3 3M834.2 979.9l-3 3" stroke-width="0.9"/><path d="M825.4 981.4Q829.5 995 832.7 1007.9V1047"/><path d="M826.7 1032.2l6 7.2 6-7.2M826.7 1039.8l6 7.2 6-7.2"/><path d="M832.7 1046.5V1118" stroke-width="1.9"/><path d="M828.3 1115.3h8.8L832.7 1124.5z" fill="#1a1a1a" stroke-width="0.6"/><path d="M832.7 1123V1165"/><ellipse cx="812.0" cy="1083.8" rx="5.3" ry="8.2"/><path d="M812.0 1073V1094.3"/><path d="M818.6 1088.4l2.3-7.8M821.0 1088.4l2.3-7.8M818.6 1085.6l4.6-1.6" stroke-width="0.85"/><ellipse cx="832.7" cy="1083.8" rx="5.3" ry="8.2"/><path d="M839.3 1088.4l2.3-7.8M841.7 1088.4l2.3-7.8M839.3 1085.6l4.6-1.6" stroke-width="0.85"/><ellipse cx="853.3" cy="1083.8" rx="5.3" ry="8.2"/><path d="M853.3 1073V1094.3"/><path d="M859.9 1088.4l2.3-7.8M862.3 1088.4l2.3-7.8M859.9 1085.6l4.6-1.6" stroke-width="0.85"/><ellipse cx="832.7" cy="1144" rx="5.4" ry="8.2"/></g></svg>
<div class="t hei" id="wt" style="left:782px;top:893.1px;font-size:19.6px;letter-spacing:1.05px;color:#1a1a1a;-webkit-text-stroke:0.25px #1a1a1a;">系统主接线一次方案图</div>
<div class="t song" id="w1" style="left:872px;top:919.5px;font-size:15.6px;color:#222;">电源进线/母线</div>
<div class="t song" id="w2" style="left:845px;top:975.2px;font-size:15.3px;color:#222;">DL</div>
<div class="t song" id="w3" style="left:788px;top:1078px;font-size:15.6px;color:#222;">P</div>
<div class="t song" id="w4" style="left:877.5px;top:1076px;font-size:15.6px;color:#222;">LH 测量、保护</div>
<div class="t song" id="w5" style="left:849px;top:1134.5px;font-size:15.6px;color:#222;">LLH零序/接地保护</div>
</div></body></html>
